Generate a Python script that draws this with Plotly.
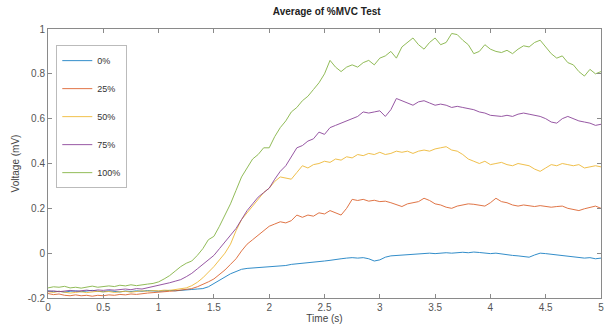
import plotly.graph_objects as go

time_s = [i * 0.05 for i in range(101)]

v_0 = [-0.168, -0.172, -0.170, -0.174, -0.170, -0.168, -0.172, -0.170, -0.166, -0.170,
       -0.172, -0.168, -0.170, -0.173, -0.169, -0.171, -0.168, -0.170, -0.167, -0.169,
       -0.170, -0.168, -0.166, -0.168, -0.165, -0.163, -0.162, -0.160, -0.158, -0.150,
       -0.135, -0.120, -0.105, -0.092, -0.082, -0.072, -0.068, -0.066, -0.065, -0.064,
       -0.062, -0.060, -0.058, -0.055, -0.050, -0.048, -0.045, -0.042, -0.040, -0.038,
       -0.035, -0.032, -0.030, -0.025, -0.022, -0.020, -0.022, -0.020, -0.025, -0.035,
       -0.030, -0.018, -0.012, -0.010, -0.008, -0.006, -0.005, -0.004, -0.002, 0.000,
       -0.002, 0.000, 0.002, 0.000, 0.003, 0.004, 0.002, 0.005, 0.003, 0.000,
       -0.002, 0.000, -0.004, -0.006, -0.010, -0.012, -0.015, -0.018, -0.008, 0.000,
       -0.002, -0.005, -0.008, -0.010, -0.012, -0.014, -0.018, -0.022, -0.020, -0.025,
       -0.022]

v_25 = [-0.180, -0.185, -0.182, -0.188, -0.190, -0.186, -0.190, -0.188, -0.192, -0.188,
        -0.190, -0.186, -0.188, -0.184, -0.186, -0.182, -0.184, -0.180, -0.178, -0.176,
        -0.175, -0.172, -0.170, -0.168, -0.165, -0.162, -0.158, -0.150, -0.140, -0.128,
        -0.115, -0.095, -0.075, -0.050, -0.025, 0.010, 0.040, 0.060, 0.080, 0.100,
        0.120, 0.130, 0.140, 0.135, 0.145, 0.170, 0.160, 0.170, 0.165, 0.180,
        0.175, 0.190, 0.180, 0.170, 0.200, 0.240, 0.235, 0.240, 0.232, 0.236,
        0.230, 0.232, 0.225, 0.215, 0.208, 0.220, 0.225, 0.230, 0.245, 0.235,
        0.220, 0.215, 0.205, 0.200, 0.210, 0.215, 0.220, 0.218, 0.215, 0.210,
        0.225, 0.245, 0.230, 0.225, 0.215, 0.210, 0.215, 0.212, 0.208, 0.212,
        0.210, 0.205, 0.208, 0.210, 0.200, 0.195, 0.190, 0.198, 0.205, 0.210,
        0.200]

v_50 = [-0.172, -0.175, -0.170, -0.174, -0.178, -0.175, -0.172, -0.176, -0.174, -0.170,
        -0.173, -0.171, -0.175, -0.172, -0.170, -0.174, -0.171, -0.168, -0.170, -0.167,
        -0.168, -0.165, -0.166, -0.163, -0.160, -0.155, -0.145, -0.130, -0.110, -0.085,
        -0.060, -0.030, 0.000, 0.040, 0.100, 0.150, 0.180, 0.210, 0.240, 0.270,
        0.290, 0.320, 0.340, 0.335, 0.330, 0.360, 0.390, 0.380, 0.395, 0.400,
        0.410, 0.405, 0.420, 0.415, 0.430, 0.425, 0.440, 0.435, 0.445, 0.440,
        0.450, 0.440, 0.445, 0.455, 0.450, 0.455, 0.445, 0.455, 0.460, 0.455,
        0.465, 0.470, 0.475, 0.460, 0.455, 0.440, 0.420, 0.410, 0.400, 0.410,
        0.395, 0.400, 0.405, 0.395, 0.390, 0.400, 0.395, 0.390, 0.375, 0.365,
        0.380, 0.395, 0.390, 0.400, 0.395, 0.390, 0.395, 0.380, 0.385, 0.390,
        0.385]

v_75 = [-0.170, -0.168, -0.172, -0.170, -0.166, -0.170, -0.168, -0.165, -0.168, -0.164,
        -0.166, -0.163, -0.165, -0.162, -0.160, -0.163, -0.158, -0.160, -0.155, -0.150,
        -0.145, -0.140, -0.132, -0.125, -0.118, -0.105, -0.090, -0.070, -0.050, -0.030,
        -0.010, 0.020, 0.050, 0.080, 0.110, 0.150, 0.190, 0.220, 0.250, 0.270,
        0.290, 0.330, 0.365, 0.390, 0.430, 0.470, 0.480, 0.500, 0.510, 0.540,
        0.530, 0.560, 0.570, 0.580, 0.590, 0.600, 0.610, 0.630, 0.625, 0.630,
        0.635, 0.610, 0.640, 0.690, 0.680, 0.670, 0.660, 0.675, 0.680, 0.670,
        0.660, 0.665, 0.660, 0.650, 0.655, 0.650, 0.645, 0.640, 0.630, 0.625,
        0.615, 0.612, 0.610, 0.615, 0.610, 0.620, 0.625, 0.620, 0.615, 0.610,
        0.600, 0.585, 0.580, 0.600, 0.610, 0.600, 0.590, 0.585, 0.580, 0.570,
        0.575]

v_100 = [-0.155, -0.150, -0.152, -0.148, -0.155, -0.152, -0.156, -0.150, -0.147, -0.152,
         -0.150, -0.146, -0.149, -0.143, -0.146, -0.141, -0.145, -0.140, -0.138, -0.135,
         -0.128, -0.115, -0.100, -0.080, -0.060, -0.045, -0.035, -0.010, 0.020, 0.060,
         0.075, 0.120, 0.170, 0.220, 0.280, 0.340, 0.380, 0.420, 0.440, 0.470,
         0.470, 0.520, 0.560, 0.590, 0.630, 0.650, 0.680, 0.700, 0.730, 0.760,
         0.800, 0.860, 0.830, 0.810, 0.830, 0.840, 0.830, 0.850, 0.860, 0.840,
         0.870, 0.880, 0.900, 0.870, 0.920, 0.940, 0.960, 0.930, 0.910, 0.940,
         0.960, 0.930, 0.940, 0.980, 0.975, 0.950, 0.930, 0.890, 0.900, 0.930,
         0.910, 0.900, 0.895, 0.905, 0.890, 0.910, 0.925, 0.920, 0.940, 0.950,
         0.920, 0.890, 0.870, 0.880, 0.850, 0.840, 0.810, 0.790, 0.820, 0.800,
         0.810]

series_names = ["0%", "25%", "50%", "75%", "100%"]
series_values = [v_0, v_25, v_50, v_75, v_100]
series_colors = ["#0072BD", "#D95319", "#EDB120", "#7E2F8E", "#77AC30"]

x_ticks = [0, 0.5, 1, 1.5, 2, 2.5, 3, 3.5, 4, 4.5, 5]
y_ticks = [-0.2, 0, 0.2, 0.4, 0.6, 0.8, 1]

fig = go.Figure()
for i, (name, vals, col) in enumerate(zip(series_names, series_values, series_colors)):
    fig.add_trace(go.Scatter(
        x=time_s, y=vals, mode="lines", name=name,
        line=dict(color=col, width=1), opacity=0.8,
        legendgroup=f"g{i}",
    ))

axis_common = dict(
    showgrid=False, zeroline=False, showline=True, linecolor="#8a8a8a", linewidth=1,
    mirror="ticks", ticks="inside", ticklen=4, tickcolor="#8a8a8a",
    ticklabeloverflow="allow",
    tickfont=dict(family="Liberation Sans, Arial", size=10, color="#555555"),
)

fig.update_layout(
    width=605, height=330,
    margin=dict(l=48, r=1, t=29, b=32),
    paper_bgcolor="white", plot_bgcolor="white",
    title=dict(text="<b>Average of %MVC Test</b>", x=0.54, xanchor="center", y=0.965, yanchor="middle",
               font=dict(family="Liberation Sans, Arial", size=10, color="#222222")),
    xaxis=dict(range=[0, 5], tickvals=x_ticks, ticktext=[f"{t:g}" for t in x_ticks],
               title=dict(text="Time (s)", standoff=2,
                          font=dict(family="Liberation Sans, Arial", size=10, color="#444444")),
               **axis_common),
    yaxis=dict(range=[-0.2, 1], tickvals=y_ticks, ticktext=[f"{t:g}" for t in y_ticks],
               title=dict(text="Voltage (mV)", standoff=6,
                          font=dict(family="Liberation Sans, Arial", size=10, color="#444444")),
               **axis_common),
    legend=dict(x=0.015, y=0.94, xanchor="left", yanchor="top",
                bordercolor="#bbbbbb", borderwidth=1, bgcolor="white",
                font=dict(family="Liberation Sans, Arial", size=9, color="#333333"),
                tracegroupgap=9, itemwidth=30),
    showlegend=True,
)

fig.write_html("out.html")
